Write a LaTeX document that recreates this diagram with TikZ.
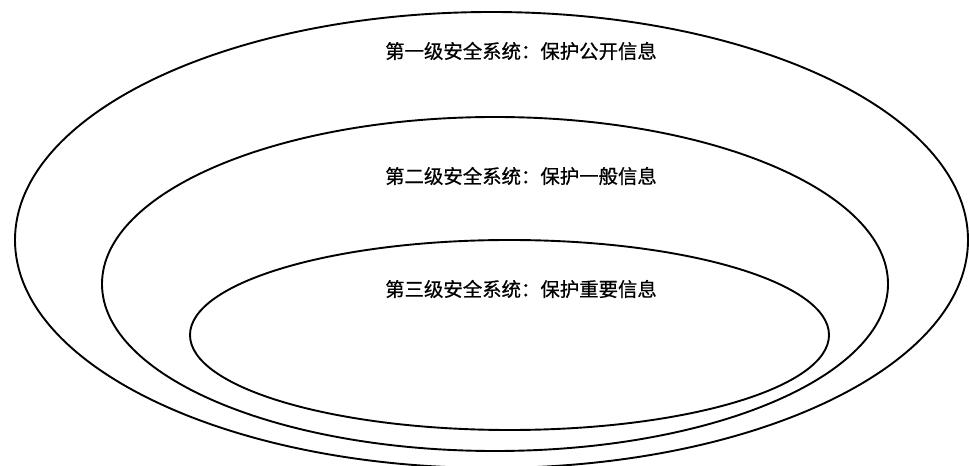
\documentclass[tikz,border=0pt]{standalone}
\usepackage{fontspec}
\newfontfamily\cjk[FakeBold=0.6]{Noto Sans CJK SC}
\usetikzlibrary{shapes.geometric}
\tikzset{
  ring/.style={draw=black, line width=1.9bp, ellipse, inner sep=0pt},
  label/.style={font=\cjk\fontsize{19.4bp}{22bp}\selectfont, inner sep=0pt, anchor=center}
}
\begin{document}
\begin{tikzpicture}[x=1bp,y=-1bp]
  \useasboundingbox (0,0) rectangle (969,466);
  \node[ring, minimum width=953bp, minimum height=456bp] (outer) at (491.5,240) {};
  \node[ring, minimum width=786bp, minimum height=334bp] (middle) at (495,284) {};
  \node[ring, minimum width=639bp, minimum height=190bp] (inner) at (509.5,335) {};
  \node[label] (t1) at (521,51) {第一级安全系统：保护公开信息};
  \node[label] (t2) at (521,176) {第二级安全系统：保护一般信息};
  \node[label] (t3) at (521,289) {第三级安全系统：保护重要信息};
\end{tikzpicture}
\end{document}
